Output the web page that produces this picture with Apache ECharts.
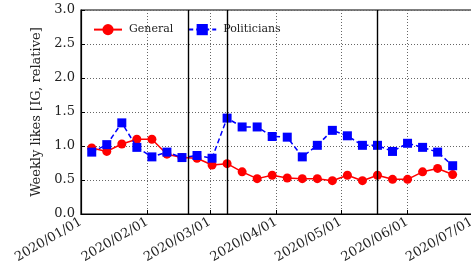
<!DOCTYPE html>
<html>
<head>
<meta charset="utf-8">
<script src="https://cdn.jsdelivr.net/npm/echarts@6/dist/echarts.min.js"></script>
<style>
html, body { margin: 0; padding: 0; background: #fff; }
#chart { width: 471px; height: 276px; }
</style>
</head>
<body>
<div id="chart"></div>
<script>
const weeks = ['2020-01-06', '2020-01-13', '2020-01-20', '2020-01-27', '2020-02-03', '2020-02-10',
    '2020-02-17', '2020-02-24', '2020-03-02', '2020-03-09', '2020-03-16', '2020-03-23', '2020-03-30',
    '2020-04-06', '2020-04-13', '2020-04-20', '2020-04-27', '2020-05-04', '2020-05-11', '2020-05-18',
    '2020-05-25', '2020-06-01', '2020-06-08', '2020-06-15', '2020-06-22'];
const general = [0.97, 0.92, 1.03, 1.10, 1.10, 0.88, 0.83, 0.82, 0.72, 0.74, 0.62, 0.52, 0.57,
    0.53, 0.52, 0.52, 0.49, 0.57, 0.49, 0.57, 0.51, 0.51, 0.62, 0.67, 0.58];
const politicians = [0.91, 1.02, 1.34, 0.98, 0.84, 0.91, 0.83, 0.86, 0.82, 1.41, 1.28, 1.28, 1.14,
    1.13, 0.84, 1.01, 1.23, 1.15, 1.01, 1.01, 0.92, 1.04, 0.98, 0.91, 0.71];
const events = ['2020-02-20', '2020-03-09', '2020-05-18'];
const yTicks = [0, 0.5, 1.0, 1.5, 2.0, 2.5, 3.0];

const font = 'DejaVu Serif';
const chart = echarts.init(document.getElementById('chart'));

function pad(n) { return (n < 10 ? '0' : '') + n; }

const option = {
    animation: false,
    textStyle: { fontFamily: font },
    grid: {
        left: 81, top: 10, width: 391, height: 204,
        outerBoundsMode: 'none',
        show: true, borderColor: '#000', borderWidth: 1.2
    },
    legend: {
        left: 88, top: 19,
        itemWidth: 28, itemHeight: 14, itemGap: 14,
        textStyle: { fontFamily: font, fontSize: 11, color: '#222', padding: [0, 0, 0, 2] },
        data: ['General', 'Politicians']
    },
    xAxis: {
        type: 'time',
        min: '2020-01-01',
        max: '2020-07-01',
        splitNumber: 6,
        axisLine: { lineStyle: { color: '#000', width: 1.2 } },
        axisTick: { inside: true, length: 4, lineStyle: { color: '#000' } },
        splitLine: { show: true, lineStyle: { color: '#666', type: [1, 2], width: 1 } },
        axisLabel: {
            rotate: 30, fontFamily: font, fontSize: 13, color: '#222', margin: 7,
            showMinLabel: true, showMaxLabel: true,
            formatter: function (v) {
                const d = new Date(v);
                return d.getFullYear() + '/' + pad(d.getMonth() + 1) + '/' + pad(d.getDate());
            }
        }
    },
    yAxis: {
        type: 'value',
        min: yTicks[0], max: yTicks[yTicks.length - 1], interval: 0.5,
        name: 'Weekly likes [IG, relative]',
        nameLocation: 'middle', nameGap: 38,
        nameTextStyle: { fontFamily: font, fontSize: 13, color: '#222' },
        axisLine: { show: true, lineStyle: { color: '#000', width: 1.2 } },
        axisTick: { show: true, inside: true, length: 4, lineStyle: { color: '#000' } },
        splitLine: { show: true, lineStyle: { color: '#666', type: [1, 2], width: 1 } },
        axisLabel: {
            fontFamily: font, fontSize: 13, color: '#222', margin: 6,
            formatter: function (v) { return v.toFixed(1); }
        }
    },
    series: [
        {
            name: 'General',
            type: 'line',
            data: weeks.map((w, i) => [w, general[i]]),
            symbol: 'circle', symbolSize: 9,
            itemStyle: { color: '#ff0000' },
            lineStyle: { color: '#ff0000', width: 1.5 },
            z: 3,
            markLine: {
                silent: true, symbol: 'none', animation: false,
                label: { show: false },
                lineStyle: { color: '#000', type: 'solid', width: 1.4 },
                data: events.map(d => ({ xAxis: d }))
            }
        },
        {
            name: 'Politicians',
            type: 'line',
            data: weeks.map((w, i) => [w, politicians[i]]),
            symbol: 'rect', symbolSize: 9,
            itemStyle: { color: '#0000ff' },
            lineStyle: { color: '#0000ff', width: 1.5, type: [5, 3] },
            z: 4
        }
    ]
};
chart.setOption(option);
</script>
</body>
</html>
